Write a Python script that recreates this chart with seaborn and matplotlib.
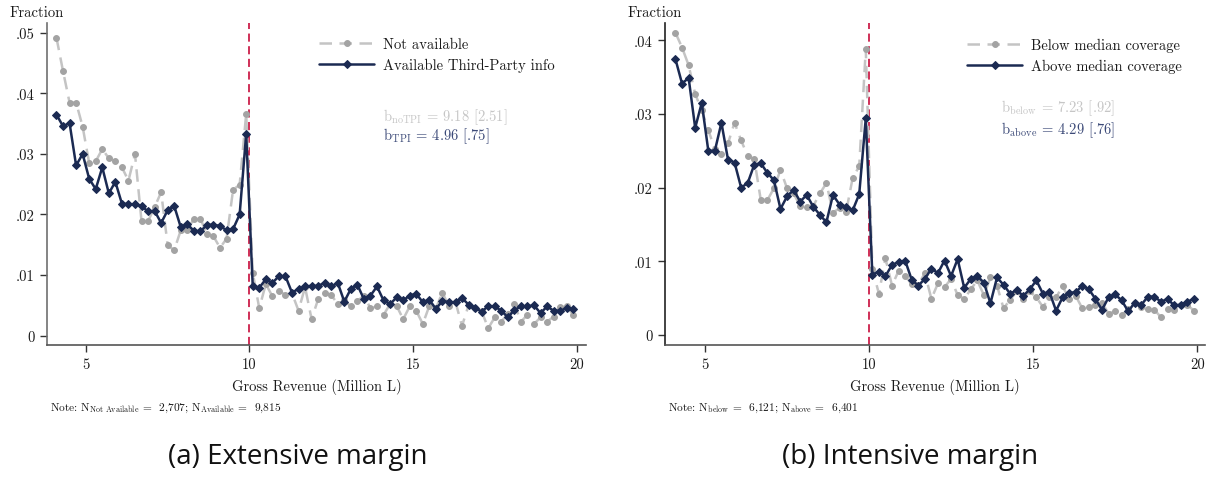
import numpy as np
import pandas as pd
import matplotlib
matplotlib.use("Agg")
import matplotlib.pyplot as plt
import seaborn as sns

# Revenue bins (million L), 0.2 wide, from 4 to 20
bin_mid = np.round(np.arange(4.1, 20.0, 0.2), 1)

# Panel (a): share of firms per bin, by third-party information
not_available = [
    0.0492, 0.0437, 0.0385, 0.0385, 0.0345, 0.0285, 0.0288, 0.0308, 0.0293, 0.0288,
    0.0278, 0.0256, 0.0300, 0.0189, 0.0189, 0.0212, 0.0237, 0.0149, 0.0141, 0.0174,
    0.0174, 0.0193, 0.0193, 0.0168, 0.0164, 0.0145, 0.0160, 0.0241, 0.0249, 0.0366,
    0.0104, 0.0045, 0.0085, 0.0065, 0.0074, 0.0067, 0.0070, 0.0041, 0.0080, 0.0027,
    0.0060, 0.0071, 0.0067, 0.0052, 0.0058, 0.0048, 0.0057, 0.0066, 0.0045, 0.0048,
    0.0034, 0.0052, 0.0049, 0.0027, 0.0048, 0.0041, 0.0019, 0.0049, 0.0045, 0.0071,
    0.0048, 0.0055, 0.0016, 0.0050, 0.0045, 0.0040, 0.0012, 0.0030, 0.0023, 0.0036,
    0.0052, 0.0023, 0.0034, 0.0019, 0.0030, 0.0023, 0.0031, 0.0047, 0.0048, 0.0034,
]
available_tpi = [
    0.0365, 0.0346, 0.0351, 0.0281, 0.0300, 0.0259, 0.0242, 0.0278, 0.0235, 0.0254,
    0.0218, 0.0217, 0.0217, 0.0214, 0.0205, 0.0206, 0.0186, 0.0207, 0.0214, 0.0179,
    0.0184, 0.0173, 0.0172, 0.0183, 0.0183, 0.0181, 0.0174, 0.0176, 0.0200, 0.0333,
    0.0082, 0.0079, 0.0093, 0.0087, 0.0098, 0.0098, 0.0071, 0.0077, 0.0081, 0.0082,
    0.0082, 0.0087, 0.0081, 0.0087, 0.0056, 0.0077, 0.0084, 0.0060, 0.0066, 0.0081,
    0.0058, 0.0052, 0.0063, 0.0058, 0.0066, 0.0069, 0.0055, 0.0059, 0.0044, 0.0057,
    0.0055, 0.0055, 0.0062, 0.0051, 0.0046, 0.0039, 0.0049, 0.0048, 0.0041, 0.0030,
    0.0042, 0.0048, 0.0048, 0.0050, 0.0037, 0.0048, 0.0041, 0.0041, 0.0045, 0.0043,
]

# Panel (b): share of firms per bin, by coverage
below_median = [
    0.0410, 0.0390, 0.0366, 0.0327, 0.0305, 0.0278, 0.0252, 0.0245, 0.0260, 0.0288,
    0.0264, 0.0243, 0.0239, 0.0183, 0.0183, 0.0199, 0.0224, 0.0199, 0.0192, 0.0175,
    0.0173, 0.0175, 0.0192, 0.0206, 0.0166, 0.0172, 0.0167, 0.0213, 0.0229, 0.0388,
    0.0090, 0.0056, 0.0104, 0.0067, 0.0087, 0.0080, 0.0069, 0.0068, 0.0084, 0.0049,
    0.0070, 0.0065, 0.0076, 0.0054, 0.0049, 0.0062, 0.0074, 0.0054, 0.0078, 0.0067,
    0.0036, 0.0048, 0.0059, 0.0049, 0.0059, 0.0051, 0.0038, 0.0051, 0.0051, 0.0066,
    0.0049, 0.0053, 0.0036, 0.0038, 0.0041, 0.0044, 0.0029, 0.0032, 0.0027, 0.0035,
    0.0044, 0.0038, 0.0035, 0.0034, 0.0024, 0.0035, 0.0034, 0.0040, 0.0041, 0.0033,
]
above_median = [
    0.0374, 0.0341, 0.0349, 0.0281, 0.0315, 0.0250, 0.0250, 0.0288, 0.0238, 0.0234,
    0.0200, 0.0206, 0.0231, 0.0233, 0.0220, 0.0210, 0.0171, 0.0188, 0.0197, 0.0181,
    0.0190, 0.0174, 0.0163, 0.0153, 0.0190, 0.0177, 0.0174, 0.0169, 0.0191, 0.0294,
    0.0082, 0.0086, 0.0080, 0.0095, 0.0099, 0.0101, 0.0075, 0.0067, 0.0076, 0.0090,
    0.0084, 0.0101, 0.0080, 0.0103, 0.0064, 0.0076, 0.0080, 0.0071, 0.0043, 0.0078,
    0.0068, 0.0056, 0.0061, 0.0053, 0.0062, 0.0074, 0.0056, 0.0058, 0.0033, 0.0051,
    0.0057, 0.0058, 0.0067, 0.0062, 0.0049, 0.0034, 0.0051, 0.0055, 0.0047, 0.0032,
    0.0044, 0.0041, 0.0052, 0.0052, 0.0045, 0.0049, 0.0040, 0.0041, 0.0045, 0.0049,
]

x_ticks = [5, 10, 15, 20]
y_ticks_a = [0, 0.01, 0.02, 0.03, 0.04, 0.05]
y_labels_a = ["0", ".01", ".02", ".03", ".04", ".05"]
y_ticks_b = [0, 0.01, 0.02, 0.03, 0.04]
y_labels_b = ["0", ".01", ".02", ".03", ".04"]
threshold = 10

NAVY = "#1b2a52"
GRAY_LINE = "#c4c4c4"
GRAY_MARK = "#a3a3a3"
CUT = "#cc1f4a"
INK = "#1a1a1a"

sns.set_style("ticks")
plt.rcParams["font.family"] = ["cmr10", "DejaVu Serif"]
plt.rcParams["mathtext.fontset"] = "cm"
plt.rcParams["axes.formatter.use_mathtext"] = True
plt.rcParams["axes.unicode_minus"] = False
plt.rcParams["text.color"] = INK
plt.rcParams["axes.labelcolor"] = INK
plt.rcParams["xtick.color"] = INK
plt.rcParams["ytick.color"] = INK

fig = plt.figure(figsize=(12.08, 4.81), dpi=100)
ax_a = fig.add_axes([47 / 1208, 135 / 481, 539 / 1208, 322 / 481])
ax_b = fig.add_axes([665 / 1208, 135 / 481, 540 / 1208, 322 / 481])

panels = [
    (ax_a, not_available, available_tpi, "Not available", "Available Third-Party info",
     y_ticks_a, y_labels_a, (-0.00157, 0.05165), (3.81, 20.29), "#707070"),
    (ax_b, below_median, above_median, "Below median coverage", "Above median coverage",
     y_ticks_b, y_labels_b, (-0.00136, 0.04233), (3.78, 20.24), "#222222"),
]

for ax, gray_y, navy_y, gray_lab, navy_lab, yt, yl, ylim, xlim, spine_col in panels:
    df = pd.DataFrame({"bin": bin_mid, "gray": gray_y, "navy": navy_y})
    ax.axvline(threshold, color=CUT, lw=1.3, linestyle=(0, (4.5, 2.5)), zorder=1)
    sns.lineplot(data=df, x="bin", y="gray", ax=ax, color=GRAY_LINE, lw=1.8,
                 linestyle=(0, (5, 3)), marker="o", markersize=4.2,
                 markerfacecolor=GRAY_MARK, markeredgecolor=GRAY_MARK,
                 label=gray_lab, zorder=2)
    sns.lineplot(data=df, x="bin", y="navy", ax=ax, color=NAVY, lw=1.8,
                 marker="D", markersize=4.2, markerfacecolor=NAVY,
                 markeredgecolor=NAVY, label=navy_lab, zorder=3)
    ax.set_xlim(*xlim)
    ax.set_ylim(*ylim)
    ax.set_xticks(x_ticks)
    ax.set_xticklabels([str(t) for t in x_ticks])
    ax.set_yticks(yt)
    ax.set_yticklabels(yl)
    ax.tick_params(axis="both", length=5, width=1, color="#333333",
                   labelsize=10.5, pad=4)
    ax.set_xlabel("Gross Revenue (Million L)", fontsize=10.5, labelpad=5)
    ax.set_ylabel("")
    sns.despine(ax=ax)
    ax.spines["left"].set_color(spine_col)
    ax.spines["bottom"].set_color("#555555")
    ax.spines["left"].set_linewidth(1.2)
    ax.spines["bottom"].set_linewidth(1.2)

for ax, anchor_x in ((ax_a, 0.48), (ax_b, 0.535)):
    ax.legend(loc="upper left", bbox_to_anchor=(anchor_x, 0.995), frameon=False,
              fontsize=10.5, handlelength=3.8, handletextpad=0.6,
              labelspacing=0.45, labelcolor=INK)

# Estimated bunching coefficients with standard errors
ax_a.text(0.623, 0.711, r"b$_{\mathrm{noTPI}}$ = 9.18 [2.51]", transform=ax_a.transAxes,
          color="#c6c6c6", fontsize=10.5, va="center")
ax_a.text(0.623, 0.652, r"b$_{\mathrm{TPI}}$ = 4.96 [.75]", transform=ax_a.transAxes,
          color="#3c4a78", fontsize=10.5, va="center")
ax_b.text(0.622, 0.739, r"b$_{\mathrm{below}}$ = 7.23 [.92]", transform=ax_b.transAxes,
          color="#c6c6c6", fontsize=10.5, va="center")
ax_b.text(0.622, 0.671, r"b$_{\mathrm{above}}$ = 4.29 [.76]", transform=ax_b.transAxes,
          color="#3c4a78", fontsize=10.5, va="center")

fig.text(10 / 1208, 1 - 13 / 481, "Fraction", fontsize=10.5, va="center", ha="left")
fig.text(628 / 1208, 1 - 13 / 481, "Fraction", fontsize=10.5, va="center", ha="left")

fig.text(50 / 1208, 1 - 408 / 481,
         r"Note: N$_{\mathrm{Not\ Available}}$ =  2,707; N$_{\mathrm{Available}}$ =  9,815",
         fontsize=8.2, va="center", ha="left")
fig.text(668 / 1208, 1 - 408 / 481,
         r"Note: N$_{\mathrm{below}}$ =  6,121; N$_{\mathrm{above}}$ =  6,401",
         fontsize=8.2, va="center", ha="left")

fig.text(298 / 1208, 1 - 457 / 481, "(a) Extensive margin", fontsize=20,
         family=["Open Sans", "DejaVu Sans"], color="#111111", va="center", ha="center")
fig.text(910 / 1208, 1 - 457 / 481, "(b) Intensive margin", fontsize=20,
         family=["Open Sans", "DejaVu Sans"], color="#111111", va="center", ha="center")

fig.savefig("out.png", dpi=100)
